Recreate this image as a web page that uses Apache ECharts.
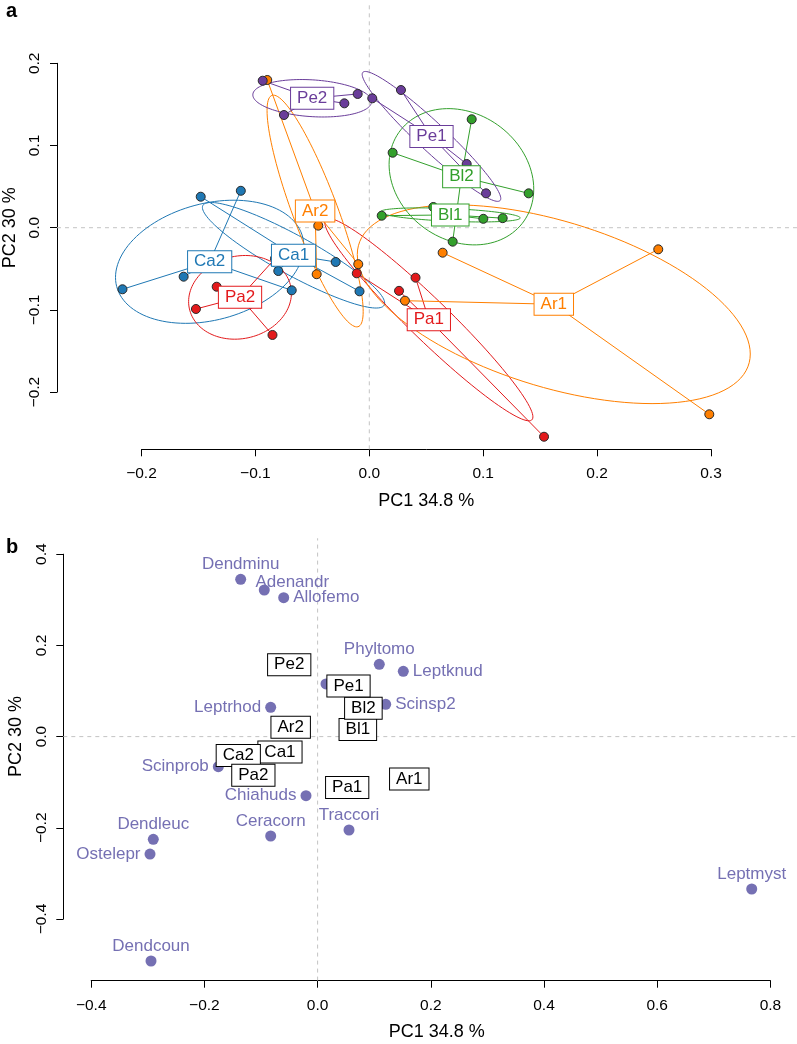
<!DOCTYPE html>
<html><head><meta charset="utf-8">
<script src="https://cdn.jsdelivr.net/npm/echarts@6/dist/echarts.min.js"></script>
<style>html,body{margin:0;padding:0;background:#fff}#c{width:797px;height:1044px}</style>
</head><body><div id="c"></div>
<script>
// ---------- Panel a: site scores by group ----------
const Ca1_x = [-0.1480, -0.0799, -0.0295, -0.0086];
const Ca1_y = [0.0377, -0.0527, -0.0417, -0.0774];
const Ca2_x = [-0.1128, -0.2167, -0.1630, -0.0681];
const Ca2_y = [0.0449, -0.0749, -0.0596, -0.0762];
const Pa1_x = [-0.0110, 0.0261, 0.0406, 0.1534];
const Pa1_y = [-0.0555, -0.0768, -0.0608, -0.2543];
const Pa2_x = [-0.1340, -0.1522, -0.0850, -0.0828];
const Pa2_y = [-0.0718, -0.0989, -0.1305, -0.0377];
const Ar1_x = [0.0644, 0.2537, 0.2985, 0.0313];
const Ar1_y = [-0.0304, -0.0263, -0.2270, -0.0888];
const Ar2_x = [-0.0896, -0.0448, -0.0462, -0.0097];
const Ar2_y = [0.1797, 0.0025, -0.0566, -0.0444];
const Bl1_x = [0.0109, 0.0562, 0.1001, 0.1171];
const Bl1_y = [0.0146, 0.0252, 0.0108, 0.0116];
const Bl2_x = [0.0899, 0.0205, 0.1399, 0.0732];
const Bl2_y = [0.1319, 0.0912, 0.0418, -0.0170];
const Pe1_x = [0.0026, 0.0278, 0.0855, 0.1025];
const Pe1_y = [0.1574, 0.1675, 0.0775, 0.0418];
const Pe2_x = [-0.0936, -0.0749, -0.0219, -0.0102];
const Pe2_y = [0.1788, 0.1371, 0.1513, 0.1627];

// ---------- Panel b: species scores ----------
const species  = ['Dendminu','Adenandr','Allofemo','Phyltomo','Leptknud','','Leptrhod','Scinsp2','Scinprob','Chiahuds','Traccori','Ceracorn','Dendleuc','Ostelepr','Dendcoun','Leptmyst'];
const speciesX = [-0.1359, -0.0942, -0.0599, 0.1090, 0.1514, 0.0148, -0.0829, 0.1203, -0.1754, -0.0205, 0.0555, -0.0829, -0.2903, -0.2961, -0.2943, 0.7670];
const speciesY = [0.3450, 0.3215, 0.3046, 0.1586, 0.1432, 0.1154, 0.0643, 0.0708, -0.0660, -0.1296, -0.2048, -0.2180, -0.2252, -0.2575, -0.4921, -0.3342];

// ---------- Axes ----------
const xTicksA = [-0.2, -0.1, 0.0, 0.1, 0.2, 0.3];
const yTicksA = [-0.2, -0.1, 0.0, 0.1, 0.2];
const xTicksB = [-0.4, -0.2, 0.0, 0.2, 0.4, 0.6, 0.8];
const yTicksB = [-0.4, -0.2, 0.0, 0.2, 0.4];
const xTitle = 'PC1 34.8 %';
const yTitle = 'PC2 30 %';
const panelTitles = ['a', 'b'];
// plot-region limits (for the dashed zero reference lines)
const XLIM_A = [-0.2742, 0.3755], YLIM_A = [-0.2696, 0.2709];
const XLIM_B = [-0.4493, 0.8470], YLIM_B = [-0.5350, 0.4350];

// ---------- Styles (kept apart from data) ----------
const COLORS = {Ca:'#1F78B4', Pa:'#E31A1C', Ar:'#FF7F00', Bl:'#33A02C', Pe:'#6A3D9A'};
const SPECIES_COLOR = '#7570B3';
const ELLIPSE_SCALE = 1.29;
const FONT = 'Liberation Sans, Arial, Helvetica, sans-serif';
const speciesLabelPos = ['top','topright','right','top','right','none','left','right','left','left','top','top','top','left','top','top'];

const groups = [
  {name:'Ca1', x:Ca1_x, y:Ca1_y, color:COLORS.Ca},
  {name:'Ca2', x:Ca2_x, y:Ca2_y, color:COLORS.Ca},
  {name:'Pa1', x:Pa1_x, y:Pa1_y, color:COLORS.Pa},
  {name:'Pa2', x:Pa2_x, y:Pa2_y, color:COLORS.Pa},
  {name:'Ar1', x:Ar1_x, y:Ar1_y, color:COLORS.Ar},
  {name:'Ar2', x:Ar2_x, y:Ar2_y, color:COLORS.Ar},
  {name:'Bl1', x:Bl1_x, y:Bl1_y, color:COLORS.Bl},
  {name:'Bl2', x:Bl2_x, y:Bl2_y, color:COLORS.Bl},
  {name:'Pe1', x:Pe1_x, y:Pe1_y, color:COLORS.Pe},
  {name:'Pe2', x:Pe2_x, y:Pe2_y, color:COLORS.Pe}
];

const mean = a => a.reduce((s, v) => s + v, 0) / a.length;
groups.forEach(g => {
  g.cx = mean(g.x); g.cy = mean(g.y);
  const n = g.x.length;
  let sxx = 0, syy = 0, sxy = 0;
  for (let i = 0; i < n; i++) {
    const dx = g.x[i] - g.cx, dy = g.y[i] - g.cy;
    sxx += dx * dx; syy += dy * dy; sxy += dx * dy;
  }
  sxx /= (n - 1); syy /= (n - 1); sxy /= (n - 1);
  const a = Math.sqrt(sxx), b = sxy / a, c = Math.sqrt(Math.max(syy - b * b, 0));
  g.ellipse = [];
  for (let k = 0; k < 120; k++) {
    const t = 2 * Math.PI * k / 120, u = Math.cos(t), v = Math.sin(t);
    g.ellipse.push([g.cx + ELLIPSE_SCALE * a * u, g.cy + ELLIPSE_SCALE * (b * u + c * v)]);
  }
});

const fmt = v => Math.abs(v) < 1e-9 ? '0.0' : (v < 0 ? '\u2212' : '') + Math.abs(v).toFixed(1);

function xAxisCfg(gi, ticks, interval, offset, margin, nameGap, namePad) {
  return {type:'value', gridIndex:gi, min:ticks[0], max:ticks[ticks.length-1], interval,
    position:'bottom', offset, name:xTitle, nameLocation:'middle', nameGap,
    nameTextStyle:{fontSize:18, color:'#000', fontFamily:FONT, padding:namePad},
    axisLine:{show:true, onZero:false, lineStyle:{color:'#000', width:1}},
    axisTick:{show:true, length:7, lineStyle:{color:'#000', width:1}},
    axisLabel:{show:true, fontSize:15.5, color:'#000', fontFamily:FONT, margin, formatter:fmt, showMinLabel:true, showMaxLabel:true},
    splitLine:{show:false}};
}
function yAxisCfg(gi, ticks, interval, offset, margin, nameGap) {
  return {type:'value', gridIndex:gi, min:ticks[0], max:ticks[ticks.length-1], interval,
    position:'left', offset, name:yTitle, nameLocation:'middle', nameGap, nameRotate:90,
    nameTextStyle:{fontSize:18, color:'#000', fontFamily:FONT},
    axisLine:{show:true, onZero:false, lineStyle:{color:'#000', width:1}},
    axisTick:{show:true, length:7, lineStyle:{color:'#000', width:1}},
    axisLabel:{show:true, fontSize:15.5, color:'#000', fontFamily:FONT, margin, rotate:90, formatter:fmt, showMinLabel:true, showMaxLabel:true},
    splitLine:{show:false}};
}

// dashed zero reference lines spanning the whole plot region
function zeroLines(ai, xlim, ylim) {
  return {type:'custom', xAxisIndex:ai, yAxisIndex:ai, clip:false, z:1, silent:true,
    data:[[0, 0]], encode:{x:0, y:1},
    renderItem:(params, api) => {
      const h0 = api.coord([xlim[0], 0]), h1 = api.coord([xlim[1], 0]);
      const v0 = api.coord([0, ylim[0]]), v1 = api.coord([0, ylim[1]]);
      const st = {stroke:'#c4c4c4', lineWidth:1, lineDash:[4,4]};
      return {type:'group', children:[
        {type:'line', shape:{x1:h0[0], y1:h0[1], x2:h1[0], y2:h1[1]}, style:st},
        {type:'line', shape:{x1:v0[0], y1:v0[1], x2:v1[0], y2:v1[1]}, style:st}
      ]};
    }};
}

const series = [];
series.push(zeroLines(0, XLIM_A, YLIM_A));

// spiders + ellipses
series.push({
  type:'custom', xAxisIndex:0, yAxisIndex:0, clip:false, z:2, silent:true,
  data: groups.map(g => [g.cx, g.cy]),
  encode:{x:0, y:1},
  renderItem: (params, api) => {
    const g = groups[params.dataIndex];
    const c = api.coord([g.cx, g.cy]);
    const children = [];
    for (let i = 0; i < g.x.length; i++) {
      const p = api.coord([g.x[i], g.y[i]]);
      children.push({type:'line', shape:{x1:c[0], y1:c[1], x2:p[0], y2:p[1]}, style:{stroke:g.color, lineWidth:1}});
    }
    children.push({type:'polygon', shape:{points:g.ellipse.map(q => api.coord(q))}, style:{fill:null, stroke:g.color, lineWidth:1}});
    return {type:'group', children};
  }
});

// site points
groups.forEach(g => {
  series.push({type:'scatter', xAxisIndex:0, yAxisIndex:0, clip:false, z:5, symbol:'circle', symbolSize:9,
    itemStyle:{color:g.color, borderColor:'#2a2a2a', borderWidth:1, opacity:1},
    data: g.x.map((v, i) => [v, g.y[i]])});
});

// group labels (panel a)
const boxLabel = {show:true, position:'inside', formatter:'{b}', fontSize:17, lineHeight:17, fontFamily:FONT,
  backgroundColor:'#fff', borderWidth:1, padding:[2,6,2,6]};
series.push({type:'scatter', xAxisIndex:0, yAxisIndex:0, clip:false, z:10, symbolSize:1,
  itemStyle:{color:'transparent', opacity:1},
  data: groups.map(g => ({name:g.name, value:[g.cx, g.cy], label:Object.assign({}, boxLabel, {color:g.color, borderColor:g.color})}))});

// ---------- panel b ----------
series.push(zeroLines(1, XLIM_B, YLIM_B));
series.push({type:'scatter', xAxisIndex:1, yAxisIndex:1, clip:false, z:5, symbol:'circle', symbolSize:11,
  itemStyle:{color:SPECIES_COLOR, opacity:1},
  data: species.map((s, i) => {
    const pos = speciesLabelPos[i];
    let label;
    if (pos === 'none') label = {show:false};
    else if (pos === 'topright') label = {show:true, position:'inside', offset:[28,-8]};
    else label = {show:true, position:pos, distance: pos === 'top' ? 1 : 4};
    return {name:s, value:[speciesX[i], speciesY[i]], label};
  }),
  label:{formatter:'{b}', color:SPECIES_COLOR, fontSize:17, lineHeight:17, fontFamily:FONT}
});
series.push({type:'scatter', xAxisIndex:1, yAxisIndex:1, clip:false, z:10, symbolSize:1,
  itemStyle:{color:'transparent', opacity:1},
  data: groups.map(g => ({name:g.name, value:[g.cx, g.cy], label:Object.assign({}, boxLabel, {color:'#000', borderColor:'#000'})}))});

const option = {
  animation:false,
  backgroundColor:'#fff',
  textStyle:{fontFamily:FONT},
  title:[
    {text:panelTitles[0], left:6, top:1, padding:0, textStyle:{fontSize:20, fontWeight:'bold', color:'#000', fontFamily:FONT}},
    {text:panelTitles[1], left:6, top:537, padding:0, textStyle:{fontSize:20, fontWeight:'bold', color:'#000', fontFamily:FONT}}
  ],
  grid:[
    {left:141.5, top:63.3, width:569.5, height:328.8, containLabel:false, outerBoundsMode:'none'},
    {left:91.2, top:554.2, width:679.2, height:364.8, containLabel:false, outerBoundsMode:'none'}
  ],
  xAxis:[
    xAxisCfg(0, xTicksA, 0.1, 57.2, 16, 43, [0,0,0,0]),
    xAxisCfg(1, xTicksB, 0.2, 61.7, 17, 42, [0,0,0,12])
  ],
  yAxis:[
    yAxisCfg(0, yTicksA, 0.1, 84.5, 14, 38),
    yAxisCfg(1, yTicksB, 0.2, 27.9, 14, 38)
  ],
  series
};
const chart = echarts.init(document.getElementById('c'), null, {renderer:'canvas', width:797, height:1044});
chart.setOption(option);
</script></body></html>
